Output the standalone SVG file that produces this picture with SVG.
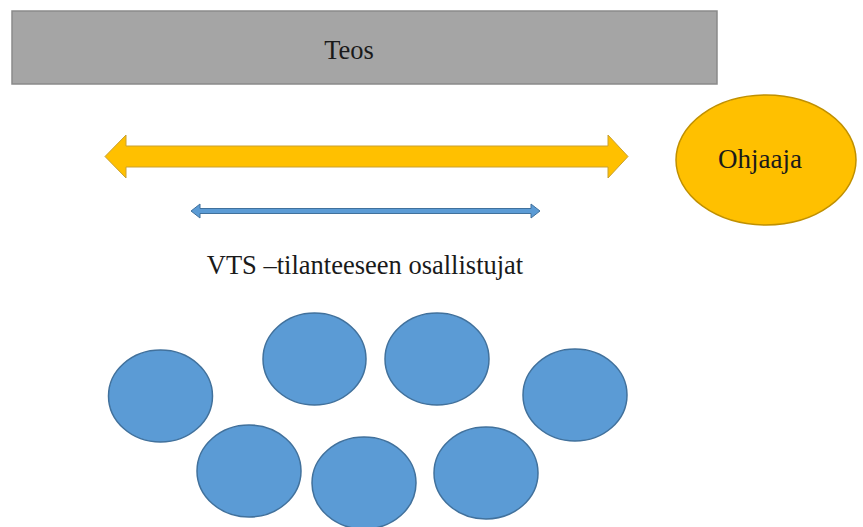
<svg xmlns="http://www.w3.org/2000/svg" width="863" height="527" viewBox="0 0 863 527">
<style>
.lbl{font-family:"Liberation Serif","Times New Roman",serif;fill:#1a1a1a;text-anchor:middle}
.p{fill:#5b9bd5;stroke:#41719c;stroke-width:1.5}
</style>
<rect width="863" height="527" fill="#ffffff"/>
<g id="teos">
<rect x="12" y="11" width="705" height="73" fill="#a5a5a5" stroke="#8a8a8a" stroke-width="1.5"/>
<text class="lbl" x="349" y="59" font-size="26.5">Teos</text>
</g>
<g id="ohjaaja">
<ellipse cx="766" cy="160" rx="90" ry="65" fill="#ffc000" stroke="#c09000" stroke-width="1.5"/>
<text class="lbl" x="760" y="168" font-size="27" fill="#2a1a00">Ohjaaja</text>
</g>
<g id="connectors">
<polygon points="105,156.5 126,135 126,146 608,146 608,135 628,156.5 608,178 608,167 126,167 126,178" fill="#ffc000" stroke="#c9a030" stroke-width="1"/>
<polygon points="191,211 200,204 200,208.5 531,208.5 531,204 540,211 531,218 531,213.5 200,213.5 200,218" fill="#5b9bd5" stroke="#41719c" stroke-width="1"/>
</g>
<g id="vts-label">
<text class="lbl" x="365" y="274" font-size="26.5">VTS –tilanteeseen osallistujat</text>
</g>
<g id="osallistujat">
<ellipse id="p1" class="p" cx="160.5" cy="396" rx="52" ry="46"/>
<ellipse id="p2" class="p" cx="314.5" cy="359" rx="51.5" ry="46"/>
<ellipse id="p3" class="p" cx="437" cy="359" rx="52" ry="46"/>
<ellipse id="p4" class="p" cx="575" cy="395" rx="52" ry="46"/>
<ellipse id="p5" class="p" cx="249" cy="471" rx="52" ry="46"/>
<ellipse id="p6" class="p" cx="364" cy="483" rx="52" ry="46"/>
<ellipse id="p7" class="p" cx="486" cy="473" rx="52" ry="46"/>
</g>
</svg>
